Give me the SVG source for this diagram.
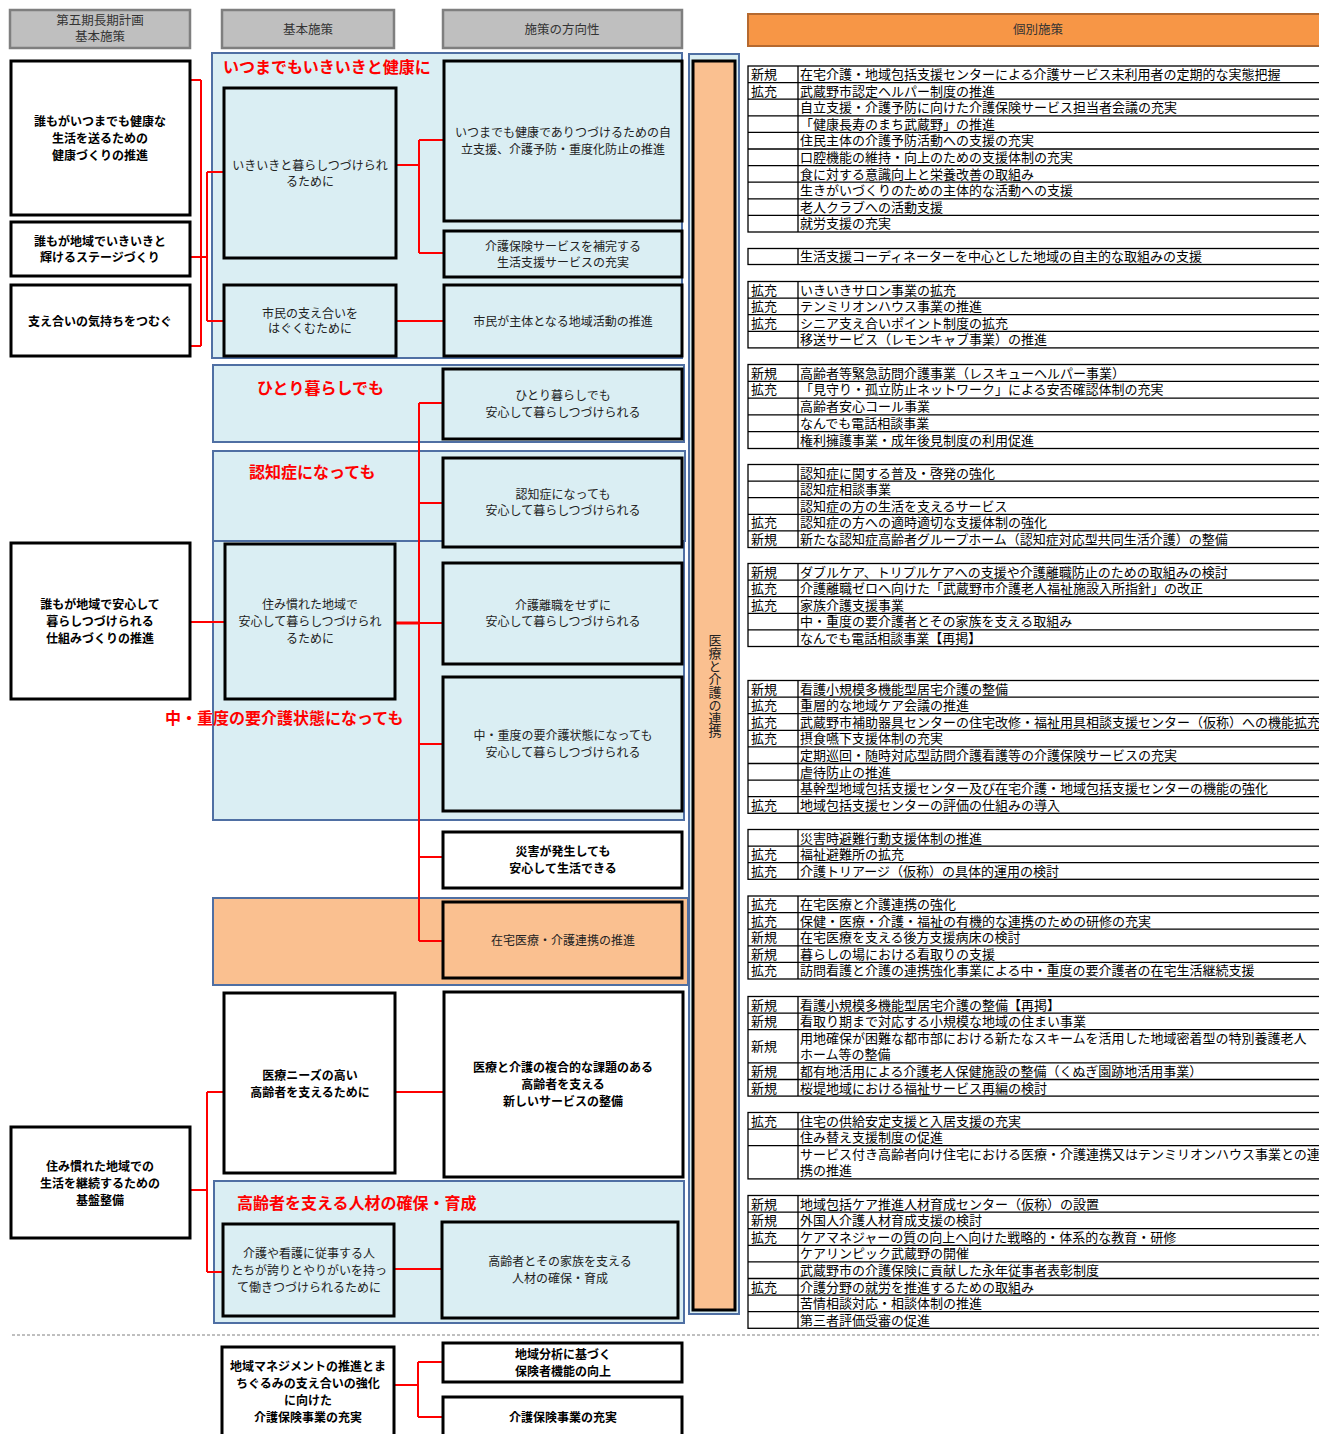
<svg xmlns="http://www.w3.org/2000/svg" width="1319" height="1434" viewBox="0 0 1319 1434">
<style>
.hdr{fill:#bfbfbf;stroke:#7f7f7f;stroke-width:2.5}
.ohdr{fill:#f79646;stroke:#b5692f;stroke-width:2}
.panel{fill:#daeef3;stroke:#4f6fa3;stroke-width:2}
.opanel{fill:#fac090;stroke:#4f6fa3;stroke-width:2}
.box{fill:#fff;stroke:#000;stroke-width:3}
.lbox{fill:#daeef3;stroke:#000;stroke-width:3}
.obox{fill:#fac090;stroke:#000;stroke-width:3}
text{font-family:"Liberation Sans","Noto Sans CJK JP",sans-serif}
.t{font-size:12px;fill:#222;text-anchor:middle}
.b{font-weight:bold;fill:#000}
.h{font-size:12.5px;fill:#333;text-anchor:middle}
.title{font-size:16px;font-weight:bold;fill:#ff0000}
.con{stroke:#ff0000;stroke-width:2;fill:none}
.tb{fill:none;stroke:#000;stroke-width:1.3}
.tt{font-size:13px;fill:#000}
</style>

<!-- headers -->
<g id="hdr-plan">
<rect class="hdr" x="10" y="10" width="180" height="38"/>
<text class="h" x="100" y="25">第五期長期計画</text>
<text class="h" x="100" y="41">基本施策</text>
</g>
<g id="hdr-basic">
<rect class="hdr" x="222" y="10" width="172" height="38"/>
<text class="h" x="308" y="33.5">基本施策</text>
</g>
<g id="hdr-direction">
<rect class="hdr" x="443" y="10" width="239" height="38"/>
<text class="h" x="562" y="33.5">施策の方向性</text>
</g>
<g id="hdr-individual">
<rect class="ohdr" x="748" y="14" width="575" height="32"/>
<text class="h" x="1038" y="33.5">個別施策</text>
</g>

<!-- panels -->
<g id="panel-health">
<rect class="panel" x="212" y="53" width="470" height="305"/>
</g>
<g id="panel-alone">
<rect class="panel" x="213" y="365" width="471" height="77"/>
</g>
<g id="panel-dementia">
<rect class="panel" x="213" y="451" width="472" height="90"/>
</g>
<g id="panel-severe">
<rect class="panel" x="213" y="541" width="471" height="279"/>
</g>
<g id="panel-medical">
<rect class="opanel" x="213" y="898" width="475" height="87"/>
</g>
<g id="panel-staff">
<rect class="panel" x="214" y="1181" width="470" height="142"/>
</g>
<g id="bar-renkei">
<rect class="panel" x="689" y="54" width="50" height="1260"/>
<rect class="obox" x="693" y="61" width="42" height="1249"/>
<text x="714" y="686" style="writing-mode:vertical-rl;font-size:13px;fill:#222" text-anchor="middle">医療と介護の連携</text>
</g>

<!-- connectors -->
<g id="connectors">
<path class="con" d="M190 80H201M190 257H207M190 346H201M201 80V346M207 172V321M207 172H224M207 321H224"/>
<path class="con" d="M396 165H419M419 140V253M419 140H444M419 253H444"/>
<path class="con" d="M396 321H444"/>
<path class="con" d="M190 622H225"/>
<path class="con" d="M395 623H419" style="stroke-width:3"/>
<path class="con" d="M419 403V941M419 403H443M419 503H443M419 623H443M419 744H443M419 857H443M419 941H443"/>
<path class="con" d="M190 1190H207M207 1092V1272M207 1092H224M207 1272H223"/>
<path class="con" d="M395 1092H444"/>
<path class="con" d="M394 1269H442"/>
<path class="con" d="M394 1385H418M418 1362V1417M418 1362H443M418 1417H443"/>
</g>

<!-- left column -->
<g id="plan-health">
<rect class="box" x="11" y="61" width="179" height="154"/>
<text class="t b" x="100" y="125.5">誰もがいつまでも健康な</text>
<text class="t b" x="100" y="142.5">生活を送るための</text>
<text class="t b" x="100" y="159.5">健康づくりの推進</text>
</g>
<g id="plan-stage">
<rect class="box" x="11" y="222" width="179" height="54"/>
<text class="t b" x="100" y="245.5">誰もが地域でいきいきと</text>
<text class="t b" x="100" y="261.5">輝けるステージづくり</text>
</g>
<g id="plan-support">
<rect class="box" x="11" y="285" width="179" height="71"/>
<text class="t b" x="100" y="325.5">支え合いの気持ちをつむぐ</text>
</g>
<g id="plan-safe">
<rect class="box" x="11" y="543" width="179" height="156"/>
<text class="t b" x="100" y="609">誰もが地域で安心して</text>
<text class="t b" x="100" y="626">暮らしつづけられる</text>
<text class="t b" x="100" y="643">仕組みづくりの推進</text>
</g>
<g id="plan-base">
<rect class="box" x="11" y="1127" width="179" height="111"/>
<text class="t b" x="100" y="1171">住み慣れた地域での</text>
<text class="t b" x="100" y="1188">生活を継続するための</text>
<text class="t b" x="100" y="1205">基盤整備</text>
</g>

<!-- basic policy column -->
<g id="basic-ikiiki">
<rect class="lbox" x="224" y="88" width="172" height="170"/>
<text class="t" x="310" y="169.5">いきいきと暮らしつづけられ</text>
<text class="t" x="310" y="185.5">るために</text>
</g>
<g id="basic-sasaeai">
<rect class="lbox" x="224" y="285" width="172" height="71"/>
<text class="t" x="310" y="317.5">市民の支え合いを</text>
<text class="t" x="310" y="332.5">はぐくむために</text>
</g>
<g id="basic-sumi">
<rect class="lbox" x="225" y="544" width="170" height="155"/>
<text class="t" x="310" y="609">住み慣れた地域で</text>
<text class="t" x="310" y="626">安心して暮らしつづけられ</text>
<text class="t" x="310" y="643">るために</text>
</g>
<g id="basic-iryo">
<rect class="box" x="224" y="993" width="171" height="180"/>
<text class="t b" x="310" y="1079.5">医療ニーズの高い</text>
<text class="t b" x="310" y="1096.5">高齢者を支えるために</text>
</g>
<g id="basic-jinzai">
<rect class="lbox" x="223" y="1224" width="171" height="92"/>
<text class="t" x="309" y="1257.5">介護や看護に従事する人</text>
<text class="t" x="309" y="1274.5">たちが誇りとやりがいを持っ</text>
<text class="t" x="309" y="1291.5">て働きつづけられるために</text>
</g>
<g id="basic-management">
<rect class="box" x="222" y="1347" width="172" height="95"/>
<text class="t b" x="308" y="1370.5">地域マネジメントの推進とま</text>
<text class="t b" x="308" y="1387.5">ちぐるみの支え合いの強化</text>
<text class="t b" x="308" y="1404.5">に向けた</text>
<text class="t b" x="308" y="1421.5">介護保険事業の充実</text>
</g>

<!-- direction column -->
<g id="dir-jiritsu">
<rect class="lbox" x="444" y="61" width="238" height="160"/>
<text class="t" x="563" y="136.5">いつまでも健康でありつづけるための自</text>
<text class="t" x="563" y="153.5">立支援、介護予防・重度化防止の推進</text>
</g>
<g id="dir-seikatsu">
<rect class="lbox" x="444" y="231" width="238" height="46"/>
<text class="t" x="563" y="250.5">介護保険サービスを補完する</text>
<text class="t" x="563" y="266.5">生活支援サービスの充実</text>
</g>
<g id="dir-chiiki">
<rect class="lbox" x="444" y="285" width="238" height="71"/>
<text class="t" x="563" y="325.5">市民が主体となる地域活動の推進</text>
</g>
<g id="dir-alone">
<rect class="lbox" x="443" y="369" width="239" height="70"/>
<text class="t" x="563" y="399.5">ひとり暮らしでも</text>
<text class="t" x="563" y="416.5">安心して暮らしつづけられる</text>
</g>
<g id="dir-dementia">
<rect class="lbox" x="443" y="458" width="239" height="89"/>
<text class="t" x="563" y="498.5">認知症になっても</text>
<text class="t" x="563" y="514.5">安心して暮らしつづけられる</text>
</g>
<g id="dir-rishoku">
<rect class="lbox" x="443" y="563" width="239" height="101"/>
<text class="t" x="563" y="609.5">介護離職をせずに</text>
<text class="t" x="563" y="625.5">安心して暮らしつづけられる</text>
</g>
<g id="dir-severe">
<rect class="lbox" x="443" y="677" width="239" height="134"/>
<text class="t" x="563" y="739.5">中・重度の要介護状態になっても</text>
<text class="t" x="563" y="756.5">安心して暮らしつづけられる</text>
</g>
<g id="dir-disaster">
<rect class="box" x="443" y="832" width="239" height="56"/>
<text class="t b" x="563" y="855.5">災害が発生しても</text>
<text class="t b" x="563" y="872.5">安心して生活できる</text>
</g>
<g id="dir-zaitaku">
<rect class="obox" x="443" y="902" width="239" height="76"/>
<text class="t" x="563" y="944.5">在宅医療・介護連携の推進</text>
</g>
<g id="dir-newservice">
<rect class="box" x="444" y="992" width="239" height="185"/>
<text class="t b" x="563" y="1071.5">医療と介護の複合的な課題のある</text>
<text class="t b" x="563" y="1088.5">高齢者を支える</text>
<text class="t b" x="563" y="1105.5">新しいサービスの整備</text>
</g>
<g id="dir-staff">
<rect class="lbox" x="442" y="1222" width="236" height="96"/>
<text class="t" x="560" y="1265.5">高齢者とその家族を支える</text>
<text class="t" x="560" y="1282.5">人材の確保・育成</text>
</g>
<g id="dir-hokensha">
<rect class="box" x="443" y="1343" width="239" height="39"/>
<text class="t b" x="563" y="1358.5">地域分析に基づく</text>
<text class="t b" x="563" y="1375.5">保険者機能の向上</text>
</g>
<g id="dir-kaigohoken">
<rect class="box" x="443" y="1397" width="239" height="45"/>
<text class="t b" x="563" y="1421.5">介護保険事業の充実</text>
</g>

<!-- panel titles -->
<g id="titles">
<text class="title" x="223" y="73">いつまでもいきいきと健康に</text>
<text class="title" x="257" y="394">ひとり暮らしでも</text>
<text class="title" x="249" y="478">認知症になっても</text>
<text class="title" x="165" y="724">中・重度の要介護状態になっても</text>
<text class="title" x="237" y="1209">高齢者を支える人材の確保・育成</text>
</g>

<!-- dashed separator -->
<line x1="12" y1="1335" x2="1319" y2="1335" stroke="#808080" stroke-width="1" stroke-dasharray="3,2"/>

<!-- individual measures table -->
<g id="table">
<!-- G1 -->
<g id="tbl-g1">
<rect class="tb" x="748" y="66" width="580" height="166"/>
<path class="tb" d="M798 66V232M748 82.6H1328M748 99.2H1328M748 115.8H1328M748 132.4H1328M748 149H1328M748 165.6H1328M748 182.2H1328M748 198.8H1328M748 215.4H1328"/>
<text class="tt" x="751" y="79">新規</text><text class="tt" x="800" y="79">在宅介護・地域包括支援センターによる介護サービス未利用者の定期的な実態把握</text>
<text class="tt" x="751" y="95.6">拡充</text><text class="tt" x="800" y="95.6">武蔵野市認定ヘルパー制度の推進</text>
<text class="tt" x="800" y="112.2">自立支援・介護予防に向けた介護保険サービス担当者会議の充実</text>
<text class="tt" x="800" y="128.8">「健康長寿のまち武蔵野」の推進</text>
<text class="tt" x="800" y="145.4">住民主体の介護予防活動への支援の充実</text>
<text class="tt" x="800" y="162">口腔機能の維持・向上のための支援体制の充実</text>
<text class="tt" x="800" y="178.6">食に対する意識向上と栄養改善の取組み</text>
<text class="tt" x="800" y="195.2">生きがいづくりのための主体的な活動への支援</text>
<text class="tt" x="800" y="211.8">老人クラブへの活動支援</text>
<text class="tt" x="800" y="228.4">就労支援の充実</text>
</g>
<!-- G2 -->
<g id="tbl-g2">
<rect class="tb" x="748" y="248.5" width="580" height="16"/>
<path class="tb" d="M798 248.5V264.5"/>
<text class="tt" x="800" y="261">生活支援コーディネーターを中心とした地域の自主的な取組みの支援</text>
</g>
<!-- G3 -->
<g id="tbl-g3">
<rect class="tb" x="748" y="281.5" width="580" height="66.4"/>
<path class="tb" d="M798 281.5V347.9M748 298.1H1328M748 314.7H1328M748 331.3H1328"/>
<text class="tt" x="751" y="294.5">拡充</text><text class="tt" x="800" y="294.5">いきいきサロン事業の拡充</text>
<text class="tt" x="751" y="311.1">拡充</text><text class="tt" x="800" y="311.1">テンミリオンハウス事業の推進</text>
<text class="tt" x="751" y="327.7">拡充</text><text class="tt" x="800" y="327.7">シニア支え合いポイント制度の拡充</text>
<text class="tt" x="800" y="344.3">移送サービス（レモンキャブ事業）の推進</text>
</g>
<!-- G4 -->
<g id="tbl-g4">
<rect class="tb" x="748" y="364.5" width="580" height="84"/>
<path class="tb" d="M798 364.5V448.5M748 381.3H1328M748 398.1H1328M748 414.9H1328M748 431.7H1328"/>
<text class="tt" x="751" y="377.5">新規</text><text class="tt" x="800" y="377.5">高齢者等緊急訪問介護事業（レスキューヘルパー事業）</text>
<text class="tt" x="751" y="394.3">拡充</text><text class="tt" x="800" y="394.3">「見守り・孤立防止ネットワーク」による安否確認体制の充実</text>
<text class="tt" x="800" y="411.1">高齢者安心コール事業</text>
<text class="tt" x="800" y="427.9">なんでも電話相談事業</text>
<text class="tt" x="800" y="444.7">権利擁護事業・成年後見制度の利用促進</text>
</g>
<!-- G5 -->
<g id="tbl-g5">
<rect class="tb" x="748" y="464.5" width="580" height="83"/>
<path class="tb" d="M798 464.5V547.5M748 481.1H1328M748 497.7H1328M748 514.3H1328M748 530.9H1328"/>
<text class="tt" x="800" y="477.5">認知症に関する普及・啓発の強化</text>
<text class="tt" x="800" y="494.1">認知症相談事業</text>
<text class="tt" x="800" y="510.7">認知症の方の生活を支えるサービス</text>
<text class="tt" x="751" y="527.3">拡充</text><text class="tt" x="800" y="527.3">認知症の方への適時適切な支援体制の強化</text>
<text class="tt" x="751" y="543.9">新規</text><text class="tt" x="800" y="543.9">新たな認知症高齢者グループホーム（認知症対応型共同生活介護）の整備</text>
</g>
<!-- G6 -->
<g id="tbl-g6">
<rect class="tb" x="748" y="563.5" width="580" height="83"/>
<path class="tb" d="M798 563.5V646.5M748 580.1H1328M748 596.7H1328M748 613.3H1328M748 629.9H1328"/>
<text class="tt" x="751" y="576.5">新規</text><text class="tt" x="800" y="576.5">ダブルケア、トリプルケアへの支援や介護離職防止のための取組みの検討</text>
<text class="tt" x="751" y="593.1">拡充</text><text class="tt" x="800" y="593.1">介護離職ゼロへ向けた「武蔵野市介護老人福祉施設入所指針」の改正</text>
<text class="tt" x="751" y="609.7">拡充</text><text class="tt" x="800" y="609.7">家族介護支援事業</text>
<text class="tt" x="800" y="626.3">中・重度の要介護者とその家族を支える取組み</text>
<text class="tt" x="800" y="642.9">なんでも電話相談事業【再掲】</text>
</g>
<!-- G7 -->
<g id="tbl-g7">
<rect class="tb" x="748" y="680.5" width="580" height="132.8"/>
<path class="tb" d="M798 680.5V813.3M748 697.1H1328M748 713.7H1328M748 730.3H1328M748 746.9H1328M748 763.5H1328M748 780.1H1328M748 796.7H1328"/>
<text class="tt" x="751" y="693.5">新規</text><text class="tt" x="800" y="693.5">看護小規模多機能型居宅介護の整備</text>
<text class="tt" x="751" y="710.1">拡充</text><text class="tt" x="800" y="710.1">重層的な地域ケア会議の推進</text>
<text class="tt" x="751" y="726.7">拡充</text><text class="tt" x="800" y="726.7">武蔵野市補助器具センターの住宅改修・福祉用具相談支援センター（仮称）への機能拡充</text>
<text class="tt" x="751" y="743.3">拡充</text><text class="tt" x="800" y="743.3">摂食嚥下支援体制の充実</text>
<text class="tt" x="800" y="759.9">定期巡回・随時対応型訪問介護看護等の介護保険サービスの充実</text>
<text class="tt" x="800" y="776.5">虐待防止の推進</text>
<text class="tt" x="800" y="793.1">基幹型地域包括支援センター及び在宅介護・地域包括支援センターの機能の強化</text>
<text class="tt" x="751" y="809.7">拡充</text><text class="tt" x="800" y="809.7">地域包括支援センターの評価の仕組みの導入</text>
</g>
<!-- G8 -->
<g id="tbl-g8">
<rect class="tb" x="748" y="829.5" width="580" height="49.8"/>
<path class="tb" d="M798 829.5V879.3M748 846.1H1328M748 862.7H1328"/>
<text class="tt" x="800" y="842.5">災害時避難行動支援体制の推進</text>
<text class="tt" x="751" y="859.1">拡充</text><text class="tt" x="800" y="859.1">福祉避難所の拡充</text>
<text class="tt" x="751" y="875.7">拡充</text><text class="tt" x="800" y="875.7">介護トリアージ（仮称）の具体的運用の検討</text>
</g>
<!-- G9 -->
<g id="tbl-g9">
<rect class="tb" x="748" y="896" width="580" height="83"/>
<path class="tb" d="M798 896V979M748 912.6H1328M748 929.2H1328M748 945.8H1328M748 962.4H1328"/>
<text class="tt" x="751" y="909">拡充</text><text class="tt" x="800" y="909">在宅医療と介護連携の強化</text>
<text class="tt" x="751" y="925.6">拡充</text><text class="tt" x="800" y="925.6">保健・医療・介護・福祉の有機的な連携のための研修の充実</text>
<text class="tt" x="751" y="942.2">新規</text><text class="tt" x="800" y="942.2">在宅医療を支える後方支援病床の検討</text>
<text class="tt" x="751" y="958.8">新規</text><text class="tt" x="800" y="958.8">暮らしの場における看取りの支援</text>
<text class="tt" x="751" y="975.4">拡充</text><text class="tt" x="800" y="975.4">訪問看護と介護の連携強化事業による中・重度の要介護者の在宅生活継続支援</text>
</g>
<!-- G10 -->
<g id="tbl-g10">
<rect class="tb" x="748" y="996.5" width="580" height="99.6"/>
<path class="tb" d="M798 996.5V1096.1M748 1013.1H1328M748 1029.7H1328M748 1062.9H1328M748 1079.5H1328"/>
<text class="tt" x="751" y="1009.5">新規</text><text class="tt" x="800" y="1009.5">看護小規模多機能型居宅介護の整備【再掲】</text>
<text class="tt" x="751" y="1026.1">新規</text><text class="tt" x="800" y="1026.1">看取り期まで対応する小規模な地域の住まい事業</text>
<text class="tt" x="751" y="1051">新規</text>
<text class="tt" x="800" y="1042.7">用地確保が困難な都市部における新たなスキームを活用した地域密着型の特別養護老人</text>
<text class="tt" x="800" y="1059.3">ホーム等の整備</text>
<text class="tt" x="751" y="1075.9">新規</text><text class="tt" x="800" y="1075.9">都有地活用による介護老人保健施設の整備（くぬぎ園跡地活用事業）</text>
<text class="tt" x="751" y="1092.5">新規</text><text class="tt" x="800" y="1092.5">桜堤地域における福祉サービス再編の検討</text>
</g>
<!-- G11 -->
<g id="tbl-g11">
<rect class="tb" x="748" y="1112.5" width="580" height="66.4"/>
<path class="tb" d="M798 1112.5V1178.9M748 1129.1H1328M748 1145.7H1328"/>
<text class="tt" x="751" y="1125.5">拡充</text><text class="tt" x="800" y="1125.5">住宅の供給安定支援と入居支援の充実</text>
<text class="tt" x="800" y="1142.1">住み替え支援制度の促進</text>
<text class="tt" x="800" y="1158.7">サービス付き高齢者向け住宅における医療・介護連携又はテンミリオンハウス事業との連</text>
<text class="tt" x="800" y="1175.3">携の推進</text>
</g>
<!-- G12 -->
<g id="tbl-g12">
<rect class="tb" x="748" y="1195.5" width="580" height="132.8"/>
<path class="tb" d="M798 1195.5V1328.3M748 1212.1H1328M748 1228.7H1328M748 1245.3H1328M748 1261.9H1328M748 1278.5H1328M748 1295.1H1328M748 1311.7H1328"/>
<text class="tt" x="751" y="1208.5">新規</text><text class="tt" x="800" y="1208.5">地域包括ケア推進人材育成センター（仮称）の設置</text>
<text class="tt" x="751" y="1225.1">新規</text><text class="tt" x="800" y="1225.1">外国人介護人材育成支援の検討</text>
<text class="tt" x="751" y="1241.7">拡充</text><text class="tt" x="800" y="1241.7">ケアマネジャーの質の向上へ向けた戦略的・体系的な教育・研修</text>
<text class="tt" x="800" y="1258.3">ケアリンピック武蔵野の開催</text>
<text class="tt" x="800" y="1274.9">武蔵野市の介護保険に貢献した永年従事者表彰制度</text>
<text class="tt" x="751" y="1291.5">拡充</text><text class="tt" x="800" y="1291.5">介護分野の就労を推進するための取組み</text>
<text class="tt" x="800" y="1308.1">苦情相談対応・相談体制の推進</text>
<text class="tt" x="800" y="1324.7">第三者評価受審の促進</text>
</g>
</g>
</svg>
